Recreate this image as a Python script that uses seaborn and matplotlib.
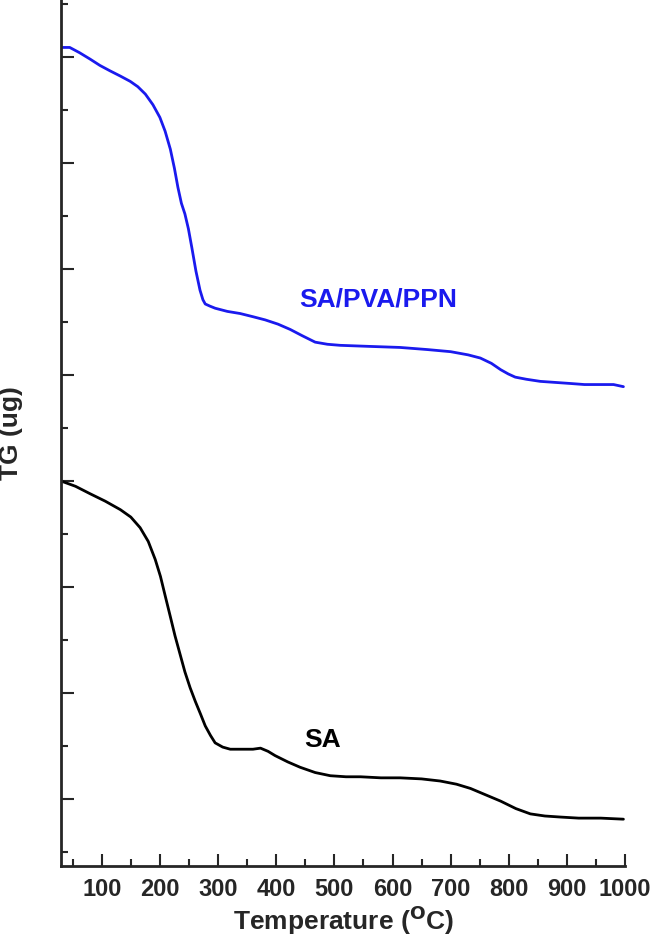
import numpy as np
import pandas as pd
import seaborn as sns
import matplotlib.pyplot as plt
from matplotlib.ticker import MultipleLocator

# temperature (C) and TG (arbitrary units)
blue_t = [30, 45, 62, 80, 97, 114, 132, 149, 162, 175, 188, 200, 209, 218, 225, 231, 237,
          243, 249, 255, 262, 269, 274, 278, 286, 295, 316, 338, 360, 381, 403, 424, 445,
          467, 488, 510, 560, 613, 660, 700, 730, 751, 770, 786, 799, 811, 830, 854, 880,
          906, 930, 958, 980, 997]
blue_tg = [7.09, 7.09, 7.04, 6.98, 6.92, 6.87, 6.82, 6.77, 6.72, 6.65, 6.55, 6.43, 6.30,
           6.13, 5.95, 5.77, 5.62, 5.52, 5.38, 5.20, 4.98, 4.80, 4.71, 4.67, 4.65, 4.63,
           4.60, 4.58, 4.55, 4.52, 4.48, 4.43, 4.37, 4.31, 4.29, 4.28, 4.27, 4.26, 4.24,
           4.22, 4.19, 4.16, 4.11, 4.05, 4.01, 3.98, 3.96, 3.94, 3.93, 3.92, 3.91, 3.91,
           3.91, 3.89]
black_t = [30, 55, 80, 106, 132, 150, 166, 180, 192, 201, 209, 218, 226, 235, 243, 252,
           261, 270, 278, 287, 295, 308, 321, 334, 347, 360, 373, 386, 398, 420, 441, 467,
           493, 520, 545, 580, 613, 650, 682, 710, 734, 760, 786, 812, 837, 862, 889, 920,
           958, 997]
black_tg = [3.00, 2.95, 2.88, 2.81, 2.73, 2.66, 2.56, 2.43, 2.26, 2.10, 1.92, 1.72, 1.54,
            1.36, 1.20, 1.05, 0.92, 0.80, 0.69, 0.60, 0.53, 0.49, 0.47, 0.47, 0.47, 0.47,
            0.48, 0.45, 0.41, 0.35, 0.30, 0.25, 0.22, 0.21, 0.21, 0.20, 0.20, 0.19, 0.17,
            0.14, 0.10, 0.04, -0.02, -0.09, -0.14, -0.16, -0.17, -0.18, -0.18, -0.19]

def main():
    sns.set_style('ticks')
    plt.rcParams['font.family'] = 'Liberation Sans'
    plt.rcParams['font.weight'] = 'bold'
    fig = plt.figure(figsize=(6.56, 9.45), dpi=100)
    ax = fig.add_axes([0.093, 0.0825, 0.86, 0.9175])

    blue = pd.DataFrame({'T': blue_t, 'TG': blue_tg})
    black = pd.DataFrame({'T': black_t, 'TG': black_tg})
    sns.lineplot(data=blue, x='T', y='TG', ax=ax, color='#1a1aee', linewidth=2)
    sns.lineplot(data=black, x='T', y='TG', ax=ax, color='black', linewidth=2)

    ax.text(575, 4.72, 'SA/PVA/PPN', color='#1a1aee', fontsize=19, fontweight='bold',
            ha='center', va='center')
    ax.text(480, 0.57, 'SA', color='black', fontsize=19, fontweight='bold',
            ha='center', va='center')

    ax.set_xlim(30, 1000)
    ax.set_ylim(-0.632, 7.547)
    ax.xaxis.set_major_locator(MultipleLocator(100))
    ax.xaxis.set_minor_locator(MultipleLocator(50))
    ax.yaxis.set_major_locator(MultipleLocator(1))
    ax.yaxis.set_minor_locator(MultipleLocator(0.5))
    ax.set_xticks(range(100, 1001, 100))
    ax.set_yticklabels([])
    ax.tick_params(axis='both', which='major', direction='in', length=9, width=1.5)
    ax.tick_params(axis='both', which='minor', direction='in', length=5, width=1.5)
    ax.tick_params(axis='x', labelsize=17, pad=8)
    for lab in ax.get_xticklabels():
        lab.set_fontweight('bold')
    sns.despine(ax=ax)
    for s in ['left', 'bottom']:
        ax.spines[s].set_linewidth(2)
    ax.set_xlabel('Temperature ($\\mathbf{^{O}}$C)', fontsize=19, fontweight='bold', labelpad=2)
    ax.set_ylabel('TG (ug)', fontsize=19, fontweight='bold', labelpad=24)

    plt.savefig('out.png', dpi=100)

if __name__ == '__main__':
    main()
